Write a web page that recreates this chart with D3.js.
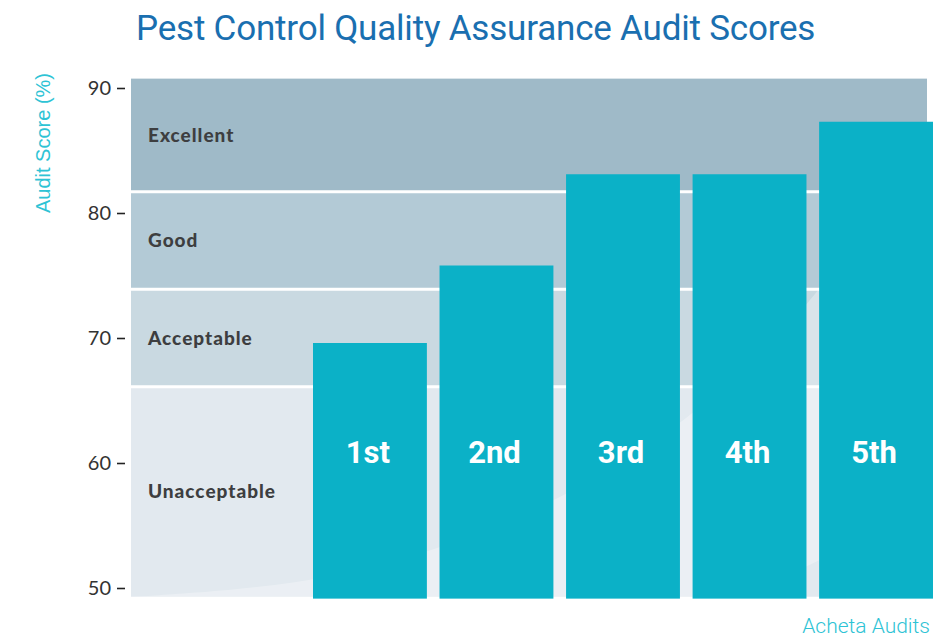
<!DOCTYPE html>
<html lang="en">
<head>
<meta charset="utf-8">
<title>Pest Control Quality Assurance Audit Scores</title>
<script src="https://d3js.org/d3.v7.min.js"></script>
<style>
  body { margin: 0; background: #fff; }
  svg { display: block; }
</style>
</head>
<body>
<svg width="936" height="638"></svg>
<script>
// audit results
var audits = ['1st', '2nd', '3rd', '4th', '5th'];
var scores = [69.6, 75.8, 83.1, 83.1, 87.3];

// rating bands (lower bound, upper bound)
var bandNames = ['Unacceptable', 'Acceptable', 'Good', 'Excellent'];
var bandLow = [49.3, 66.1, 73.9, 81.7];
var bandHigh = [66.1, 73.9, 81.7, 90.75];
var bandColors = ['#e2e9ef', '#c9d9e1', '#b3cad6', '#9fbac8'];

var yTicks = [50, 60, 70, 80, 90];
var baseline = 49.3;

var svg = d3.select('svg');

var y = d3.scaleLinear().domain([50, 90]).range([588, 88]);
var x = d3.scaleBand().domain(audits).range([313, 933]).paddingInner(0.1).paddingOuter(0);
var plotLeft = 131, plotRight = 927;

// background bands
var bands = bandNames.map(function(n, i) {
  return {name: n, lo: bandLow[i], hi: bandHigh[i], color: bandColors[i]};
});

svg.append('defs').append('clipPath').attr('id', 'plotclip')
  .append('rect')
  .attr('x', plotLeft).attr('y', y(bandHigh[3]))
  .attr('width', plotRight - plotLeft)
  .attr('height', y(baseline) - y(bandHigh[3]));

var bg = svg.append('g');
bg.selectAll('rect')
  .data(bands)
  .enter()
  .append('rect')
  .attr('x', plotLeft)
  .attr('width', plotRight - plotLeft)
  .attr('y', function(d, i) { return y(d.hi) + (i < 3 ? 1.5 : 0); })
  .attr('height', function(d, i) {
    var top = y(d.hi) + (i < 3 ? 1.5 : 0);
    var bot = y(d.lo) - (i > 0 ? 1.5 : 0);
    return bot - top;
  })
  .style('fill', function(d) { return d.color; });

// faint swoosh in the background
var sw = [[plotLeft, 597], [300, 586], [435, 552], [560, 501], [686, 425], [814, 305], [880, 200], [945, 115], [1010, 0]];
bg.append('path')
  .attr('clip-path', 'url(#plotclip)')
  .attr('d', d3.line().curve(d3.curveBasis)(sw.concat([[1010, 640], [plotLeft, 640]])))
  .style('fill', '#ffffff')
  .style('fill-opacity', 0.3);

// band labels
bg.selectAll('text')
  .data(bands)
  .enter()
  .append('text')
  .attr('x', 148)
  .attr('y', function(d) { return (y(d.hi) + y(d.lo)) / 2; })
  .attr('dy', '0.35em')
  .style('font-family', 'Lato, sans-serif')
  .style('font-weight', 900)
  .style('font-size', '19px')
  .style('letter-spacing', '1px')
  .style('fill', '#3d3e40')
  .text(function(d) { return d.name; });

// bars
var data = audits.map(function(a, i) { return {label: a, score: scores[i]}; });

svg.append('g')
  .selectAll('rect')
  .data(data)
  .enter()
  .append('rect')
  .attr('x', function(d) { return x(d.label); })
  .attr('y', function(d) { return y(d.score); })
  .attr('width', x.bandwidth())
  .attr('height', function(d) { return y(baseline - 0.15) - y(d.score); })
  .style('fill', '#0bb1c7');

svg.append('g')
  .selectAll('text')
  .data(data)
  .enter()
  .append('text')
  .attr('x', function(d) { return x(d.label) + x.bandwidth() / 2 - 2; })
  .attr('y', y(60))
  .attr('text-anchor', 'middle')
  .style('font-family', 'Roboto, sans-serif')
  .style('font-weight', 700)
  .style('font-size', '31px')
  .style('fill', '#ffffff')
  .text(function(d) { return d.label; });

// Y axis
var yAxis = svg.append('g')
  .attr('transform', 'translate(125,0)')
  .call(d3.axisLeft(y).tickValues(yTicks).tickSize(8).tickPadding(6));
yAxis.select('.domain').remove();
yAxis.selectAll('line').style('stroke', '#222').style('stroke-width', 1.6);
yAxis.selectAll('text')
  .style('font-family', 'Lato, sans-serif')
  .style('font-size', '20px')
  .style('fill', '#333');

svg.append('text')
  .attr('transform', 'rotate(-90)')
  .attr('x', -143)
  .attr('y', 50)
  .attr('text-anchor', 'middle')
  .style('font-family', '"Liberation Sans", Arial, sans-serif')
  .style('font-size', '20px')
  .style('fill', '#2ec3d5')
  .text('Audit Score (%)');

// title
svg.append('text')
  .attr('x', 136)
  .attr('y', 40)
  .style('font-family', 'Roboto, sans-serif')
  .style('font-weight', 400)
  .style('font-size', '35px')
  .style('letter-spacing', '-0.2px')
  .style('fill', '#1a6fb0')
  .text('Pest Control Quality Assurance Audit Scores');

// x caption
svg.append('text')
  .attr('x', 930)
  .attr('y', 633)
  .attr('text-anchor', 'end')
  .style('font-family', 'Roboto, sans-serif')
  .style('font-weight', 300)
  .style('font-size', '21px')
  .style('fill', '#2ec3d5')
  .text('Acheta Audits');
</script>
</body>
</html>
